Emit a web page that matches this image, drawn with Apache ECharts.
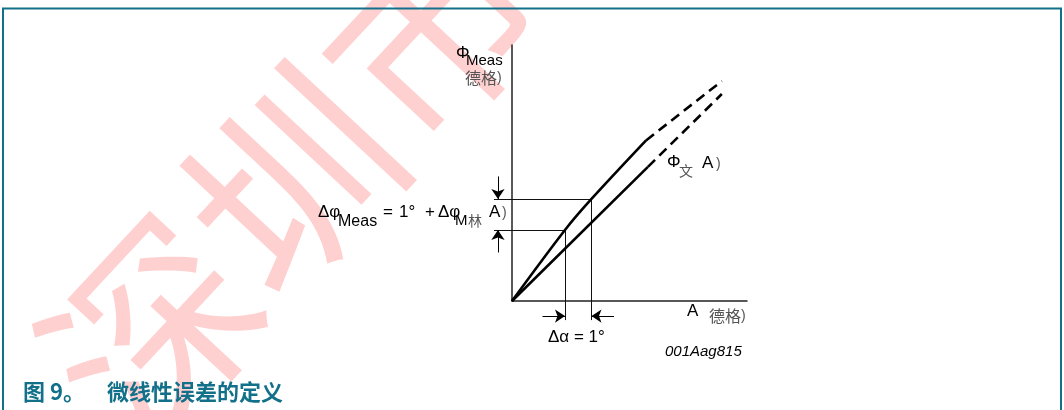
<!DOCTYPE html>
<html>
<head>
<meta charset="utf-8">
<script src="https://cdn.jsdelivr.net/npm/echarts@6/dist/echarts.min.js"></script>
<style>
  html, body { margin: 0; padding: 0; background: #fff; }
  #chart { width: 1064px; height: 410px; }
</style>
</head>
<body>
<div id="chart"></div>
<script>
// Axis extents in degrees (same screen scale on both axes)
const A_MAX = 8.87;
const PHI_MAX = 9.66;

// Two input angles one degree apart
const alphaPair = [2, 3];
// Measured angle at those inputs
const phiPair = [2.68, 3.85];

// Measured transfer curve: solid part, then dashed continuation
const measSolid = [[0, 0], [2, 2.68], [3, 3.85], [5.06, 6.06]];
const measDashed = [[5.06, 6.06], [7.92, 8.30]];

// Ideal (straight) transfer line
const idealSolid = [[0, 0], [5.13, 5.06]];
const idealDashed = [[5.13, 5.06], [7.92, 7.81]];

// Where the guide lines start / end outside the plot area
const GUIDE_LEFT = -0.68;   // left end of horizontal guides
const GUIDE_BOTTOM = -0.72; // bottom end of vertical guides
const ARROW_X = -0.53;      // column of the Δφ arrows
const ARROW_Y = -0.57;      // row of the Δα arrows
const ARROW_LEN = 0.85;

const chart = echarts.init(document.getElementById('chart'), null, { renderer: 'canvas' });

const LATIN = '"Liberation Sans", Arial, sans-serif';
const CJK = '"Noto Sans CJK SC", sans-serif';
const GREY = '#555';

function seg(p, q) { return { coords: [p, q] }; }

const guides = [
  seg([GUIDE_LEFT, phiPair[1]], [alphaPair[1], phiPair[1]]),
  seg([GUIDE_LEFT, phiPair[0]], [alphaPair[0], phiPair[0]]),
  seg([alphaPair[0], phiPair[0]], [alphaPair[0], GUIDE_BOTTOM]),
  seg([alphaPair[1], phiPair[1]], [alphaPair[1], GUIDE_BOTTOM])
];

const arrows = [
  seg([ARROW_X, phiPair[1] + ARROW_LEN], [ARROW_X, phiPair[1]]),
  seg([ARROW_X, phiPair[0] - ARROW_LEN], [ARROW_X, phiPair[0]]),
  seg([alphaPair[0] - ARROW_LEN, ARROW_Y], [alphaPair[0], ARROW_Y]),
  seg([alphaPair[1] + ARROW_LEN, ARROW_Y], [alphaPair[1], ARROW_Y])
];

function txt(text, x, y, size, opts) {
  opts = opts || {};
  return {
    type: 'text', x: x, y: y, z: 10,
    style: {
      text: text,
      font: (opts.italic ? 'italic ' : '') + (opts.bold ? 'bold ' : '') + size + 'px ' + (opts.family || LATIN),
      fill: opts.color || '#000',
      verticalAlign: 'middle',
      align: 'left'
    }
  };
}

const option = {
  animation: false,
  backgroundColor: '#fff',
  grid: { left: 512, top: 45, width: 235, height: 256, containLabel: false },
  xAxis: {
    type: 'value', min: 0, max: A_MAX,
    axisLine: { show: true, onZero: false, lineStyle: { color: '#222', width: 1.5 } },
    axisTick: { show: false }, axisLabel: { show: false }, splitLine: { show: false }
  },
  yAxis: {
    type: 'value', min: 0, max: PHI_MAX,
    axisLine: { show: true, onZero: false, lineStyle: { color: '#222', width: 1.5 } },
    axisTick: { show: false }, axisLabel: { show: false }, splitLine: { show: false }
  },
  series: [
    {
      type: 'line', data: measSolid, symbol: 'none', clip: false, smooth: 0.3,
      lineStyle: { color: '#000', width: 2.6 }, z: 5
    },
    {
      type: 'line', data: measDashed, symbol: 'none', clip: false,
      lineStyle: { color: '#000', width: 2.6, type: [10, 6] }, z: 5
    },
    {
      type: 'line', data: idealSolid, symbol: 'none', clip: false,
      lineStyle: { color: '#000', width: 2.6 }, z: 5
    },
    {
      type: 'line', data: idealDashed, symbol: 'none', clip: false,
      lineStyle: { color: '#000', width: 2.6, type: [10, 6] }, z: 5
    },
    {
      type: 'lines', coordinateSystem: 'cartesian2d', clip: false,
      data: guides, symbol: 'none',
      lineStyle: { color: '#111', width: 1, opacity: 1 }, z: 4
    },
    {
      type: 'lines', coordinateSystem: 'cartesian2d', clip: false,
      data: arrows, symbol: ['none', 'arrow'], symbolSize: [7, 10],
      lineStyle: { color: '#000', width: 1, opacity: 1 }, z: 4
    }
  ],
  graphic: [
    // watermark
    {
      type: 'text', x: 82, y: 405, rotation: 47 * Math.PI / 180, z: -1, silent: true,
      style: {
        text: '深圳市', font: '205px ' + CJK, fill: 'rgba(255,40,40,0.22)',
        verticalAlign: 'middle', align: 'left'
      }
    },
    // frame
    {
      type: 'rect', z: 1, silent: true,
      shape: { x: 3, y: 8.5, width: 1058, height: 430 },
      style: { fill: 'none', stroke: '#13708a', lineWidth: 2 }
    },
    // y-axis name
    txt('Φ', 456, 53, 17),
    txt('Meas', 466, 61, 15),
    txt('德格', 465, 78, 16, { family: CJK, color: GREY }),
    txt(')', 497, 78, 14, { color: GREY }),
    // Δφ equation
    txt('Δφ', 318, 212, 17),
    txt('Meas', 338, 222, 16),
    txt('=', 383, 212, 17),
    txt('1°', 399, 212, 17),
    txt('+', 425, 212, 17),
    txt('Δφ', 438, 212, 17),
    txt('M', 455, 221, 15),
    txt('林', 468, 221, 14, { family: CJK, color: GREY }),
    txt('A', 489, 212, 17),
    txt(')', 502, 213, 14, { color: GREY }),
    // ideal line label
    txt('Φ', 667, 162, 17),
    txt('文', 679, 171, 14, { family: CJK, color: GREY }),
    txt('A', 702, 163, 17),
    txt(')', 716, 164, 14, { color: GREY }),
    // x-axis name
    txt('A', 687, 311, 17),
    txt('德格', 709, 316, 16, { family: CJK, color: GREY }),
    txt(')', 741, 316, 14, { color: GREY }),
    // Δα label and figure code
    txt('Δα = 1°', 548, 337, 17),
    txt('001Aag815', 665, 352, 15, { italic: true }),
    // caption
    txt('图 9。', 23, 392, 22, { family: CJK, bold: true, color: '#13708a' }),
    txt('微线性误差的定义', 107, 392, 22, { family: CJK, bold: true, color: '#13708a' })
  ]
};

chart.setOption(option);
</script>
</body>
</html>
